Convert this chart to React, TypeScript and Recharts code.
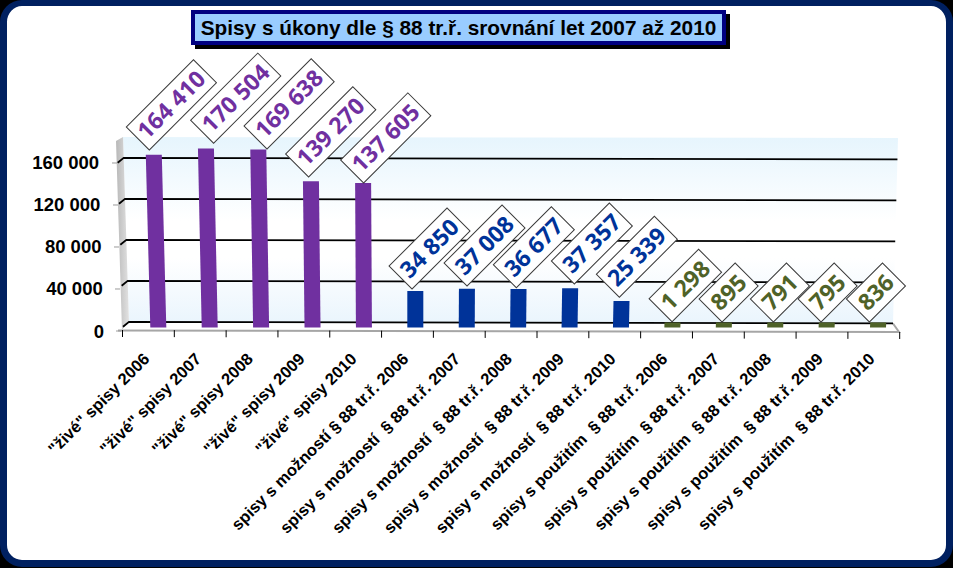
import React from "react";
import { BarChart, Bar, XAxis, YAxis, CartesianGrid, LabelList } from "recharts";

const categories = [
  '"živé" spisy 2006', '"živé" spisy 2007', '"živé" spisy 2008', '"živé" spisy 2009', '"živé" spisy 2010',
  "spisy s možností § 88 tr.ř. 2006", "spisy s možností  § 88 tr.ř. 2007", "spisy s možností  § 88 tr.ř. 2008",
  "spisy s možností  § 88 tr.ř. 2009", "spisy s možností  § 88 tr.ř. 2010",
  "spisy s použitím  § 88 tr.ř. 2006", "spisy s použitím  § 88 tr.ř. 2007", "spisy s použitím  § 88 tr.ř. 2008",
  "spisy s použitím  § 88 tr.ř. 2009", "spisy s použitím  § 88 tr.ř. 2010",
];
const values = [164410, 170504, 169638, 139270, 137605, 34850, 37008, 36677, 37357, 25339, 1298, 895, 791, 795, 836];
const yTicks = [0, 40000, 80000, 120000, 160000];
const groupColors = ["#7030a0", "#003399", "#4f6228"];
const titleText = "Spisy s úkony dle § 88 tr.ř. srovnání let 2007 až 2010";

const table = categories.map((name, i) => ({ name, value: values[i] }));
const colorOf = (i: number) => groupColors[Math.floor(i / 5)];
const fmt = (v: number) => String(v).replace(/\B(?=(\d{3})+$)/g, " ");
const SANS = "'Liberation Sans', Arial, sans-serif";

// hand-placed label offsets of the original callouts (dx, dy from the bar top)
const labelNudges = [
  [-9, -6.4], [3.9, -6.7], [5.9, -1.9], [-3.9, -5.8], [-0.3, -1.5],
  [-3.3, -3.4], [0.3, -4.1], [-1.8, -2.8], [4.8, -5.8], [-1.6, -5.1],
  [-0.3, -2.3], [-1.7, -2], [-1.8, -2], [-5.5, -2], [-8.6, -2],
];
const labelLengths: Record<number, number> = { 7: 95, 6: 82, 5: 70, 3: 51 };

const WALL_TOP = 137;
const WALL_BOTTOM = 322;
const leftBack = (y: number) => 123 + ((y - WALL_TOP) / (WALL_BOTTOM - WALL_TOP)) * 6;
const rightBack = (y: number) => 898 - ((y - WALL_TOP) / (WALL_BOTTOM - WALL_TOP)) * 5;

// The gridlines run on the back wall, drawn a little smaller than the front scale.
const gridLine = (p: any) => {
  const y = 321.8 - (329 - p.y1) * (41 / 42);
  const xb = leftBack(y);
  return (
    <polyline
      key={p.key ?? p.y1}
      points={`${xb - 6},${y + 5} ${xb},${y} ${rightBack(y)},${y + 1.5}`}
      fill="none"
      stroke="#000"
      strokeWidth={1.8}
    />
  );
};

const BarShape = (p: any) => {
  const { x, y, width, height, index } = p;
  const top = y - 1.5;
  const bottom = y + height - 1.5;
  const xc = x + width / 2;
  const skew = (xc - 420) * height * 1e-4;
  return (
    <polygon
      points={`${x + skew},${top} ${x + width + skew},${top} ${x + width},${bottom} ${x},${bottom}`}
      fill={colorOf(index)}
    />
  );
};

const Callout = (p: any) => {
  const { x, y, width, value, index } = p;
  const text = fmt(value);
  const L = labelLengths[text.length] ?? 80;
  const [dx, dy] = labelNudges[index];
  const bx = x + width / 2 + dx;
  const by = y + dy;
  const S = 32.5;
  const k = Math.SQRT1_2;
  const cx = bx - (S * k) / 2 + (L * k) / 2;
  const cy = by - (S * k) / 2 - (L * k) / 2;
  return (
    <g transform={`translate(${cx},${cy}) rotate(-45)`}>
      <rect x={-L / 2} y={-S / 2} width={L} height={S} fill="#fff" stroke="#3a3a3a" strokeWidth={1} />
      <text
        x={0}
        y={8}
        textAnchor="middle"
        fontFamily="'Open Sans', sans-serif"
        fontWeight={700}
        fontSize={23}
        fill={colorOf(index)}
      >
        {text}
      </text>
    </g>
  );
};

const YTick = (p: any) => {
  const { y, payload } = p;
  const v = payload.value;
  const xEnd = 99 + ((160000 - v) / 160000) * 5;
  const xTick = 117 + ((160000 - v) / 160000) * 4;
  return (
    <g>
      <line x1={xTick - 5} x2={xTick} y1={y + 2} y2={y + 2} stroke="#9a9a9a" strokeWidth={1} />
      <text x={xEnd} y={y + 8.5} textAnchor="end" fontFamily={SANS} fontWeight={700} fontSize={18.5} fill="#000">
        {fmt(v)}
      </text>
    </g>
  );
};

const XTick = (p: any) => {
  const { x, y, payload, index } = p;
  const half = 25.9;
  const tickAt = (tx: number) => {
    const t = y + 1 + ((tx - 122) / 778) * 2;
    return <line x1={tx} x2={tx} y1={t} y2={t + 7} stroke="#000" strokeWidth={1} />;
  };
  return (
    <g>
      {tickAt(x - half)}
      {index === categories.length - 1 ? tickAt(x + half) : null}
      <g transform={`translate(${x + 2},${y + 31}) rotate(-45)`}>
        <text textAnchor="end" fontFamily={SANS} fontWeight={700} fontSize={16.5} fill="#000" style={{ whiteSpace: "pre" }}>
          {payload.value}
        </text>
      </g>
    </g>
  );
};

export default function App() {
  return (
    <div style={{ position: "absolute", left: 0, top: 0, width: 953, height: 568, background: "#000", overflow: "hidden" }}>
      <div
        style={{
          position: "absolute",
          left: 0,
          top: 0,
          width: 953,
          height: 567,
          boxSizing: "border-box",
          background: "#fff",
          borderStyle: "solid",
          borderColor: "#002060",
          borderWidth: "6px 7px 7px 7px",
          borderRadius: 22,
        }}
      />
      <div style={{ position: "absolute", left: 195, top: 14, width: 535, height: 35, background: "#000" }} />
      <div
        style={{
          position: "absolute",
          left: 191,
          top: 10,
          width: 535,
          height: 35,
          boxSizing: "border-box",
          border: "4px solid #000080",
          background: "#99ccff",
          color: "#000",
          fontFamily: SANS,
          fontWeight: 700,
          fontSize: 20.8,
          lineHeight: "27px",
          textAlign: "center",
          whiteSpace: "nowrap",
        }}
      >
        {titleText}
      </div>
      <svg width={953} height={568} style={{ position: "absolute", left: 0, top: 0 }}>
        <defs>
          <linearGradient id="wall" x1="0" y1="0" x2="0" y2="1">
            <stop offset="0" stopColor="#e6f5fd" />
            <stop offset="0.45" stopColor="#ffffff" />
            <stop offset="0.65" stopColor="#ffffff" />
            <stop offset="1" stopColor="#eaf5fd" />
          </linearGradient>
          <linearGradient id="side" x1="0" y1="0" x2="1" y2="0">
            <stop offset="0" stopColor="#b8b8b8" />
            <stop offset="1" stopColor="#e2e2e2" />
          </linearGradient>
        </defs>
        <polygon points="123,137 898,138 893,323 129,322" fill="url(#wall)" />
        <polygon points="116,141 123,137 129,322 122,330" fill="url(#side)" />
        <polygon points="122,330 129,322 893,323.5 899,332" fill="#fff" />
        <polyline points="118,330.5 899,332 893,323.5" fill="none" stroke="#a6a6a6" strokeWidth={2} />
      </svg>
      <div style={{ position: "absolute", left: 0, top: 0 }}>
        <BarChart
          width={953}
          height={568}
          data={table}
          margin={{ top: 137, right: 49.6, bottom: 0, left: 0 }}
          barCategoryGap={0}
        >
          <CartesianGrid
            xAxisId="labels"
            vertical={false}
            horizontal={gridLine}
            horizontalValues={yTicks}
            syncWithTicks={false}
          />
          <XAxis
            dataKey="name"
            xAxisId="labels"
            height={239}
            interval={0}
            padding={{ left: 0, right: 3.7 }}
            axisLine={false}
            tickLine={false}
            tickSize={0}
            tickMargin={0}
            tick={XTick}
          />
          <XAxis dataKey="name" xAxisId="bars" hide height={0} padding={{ left: 9.8, right: 0 }} />
          <YAxis
            width={122.5}
            domain={[0, 182857]}
            ticks={yTicks}
            interval={0}
            axisLine={false}
            tickLine={false}
            tick={YTick}
          />
          <Bar
            dataKey="value"
            xAxisId="bars"
            barSize={16}
            minPointSize={5}
            isAnimationActive={false}
            shape={BarShape}
          >
            <LabelList dataKey="value" content={Callout} />
          </Bar>
        </BarChart>
      </div>
    </div>
  );
}
